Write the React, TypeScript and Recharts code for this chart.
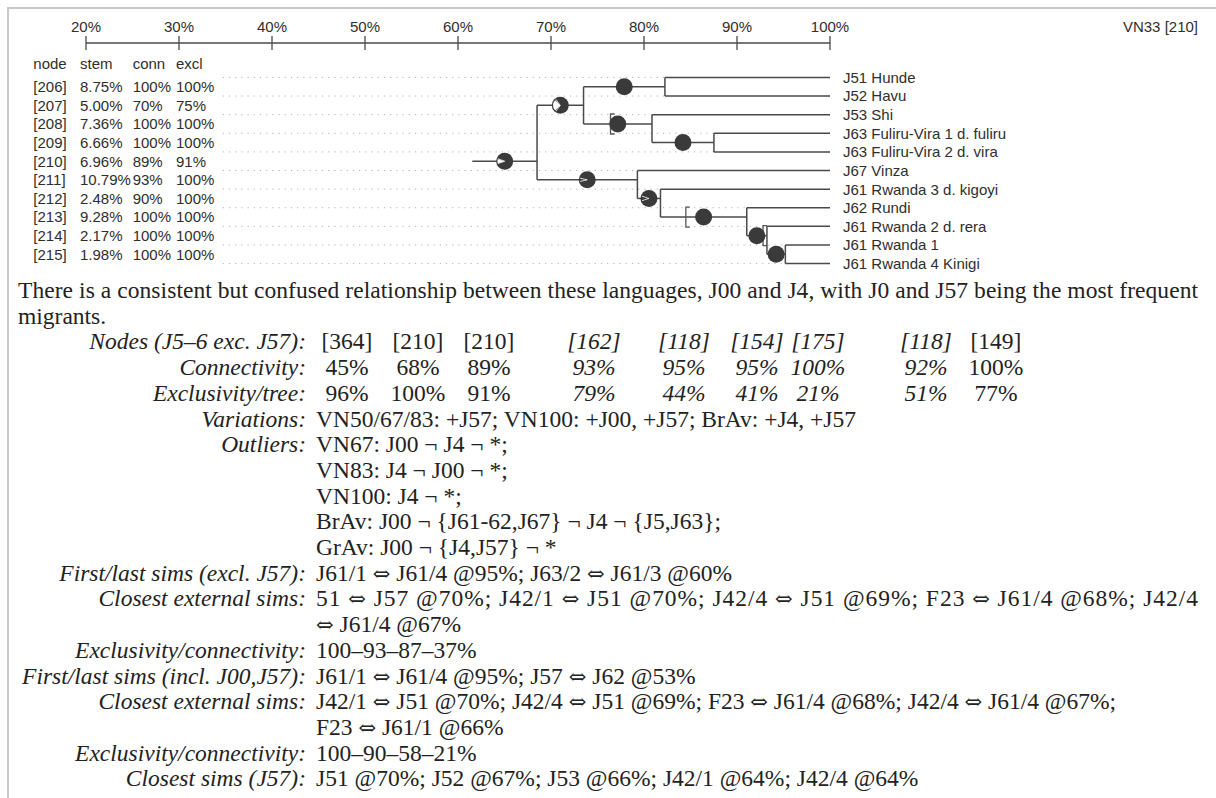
import React from 'react';
import { ScatterChart, Scatter, XAxis, YAxis } from 'recharts';

// leaves of the tree, top to bottom
const leafNames = [
  'J51 Hunde',
  'J52 Havu',
  'J53 Shi',
  'J63 Fuliru-Vira 1 d. fuliru',
  'J63 Fuliru-Vira 2 d. vira',
  'J67 Vinza',
  'J61 Rwanda 3 d. kigoyi',
  'J62 Rundi',
  'J61 Rwanda 2 d. rera',
  'J61 Rwanda 1',
  'J61 Rwanda 4 Kinigi',
];

// internal nodes, in table order
const nodeIds = [206, 207, 208, 209, 210, 211, 212, 213, 214, 215];
const stems = [8.75, 5.0, 7.36, 6.66, 6.96, 10.79, 2.48, 9.28, 2.17, 1.98];
const connectivity = [100, 70, 100, 100, 89, 93, 90, 100, 100, 100];
const exclusivity = [100, 75, 100, 100, 91, 100, 100, 100, 100, 100];
// 'L<n>' = leaf n, 'N<id>' = internal node
const nodeChildren = [
  ['L0', 'L1'],
  ['N206', 'N208'],
  ['L2', 'N209'],
  ['L3', 'L4'],
  ['N207', 'N211'],
  ['L5', 'N212'],
  ['L6', 'N213'],
  ['L7', 'N214'],
  ['L8', 'N215'],
  ['L9', 'L10'],
];
const rootId = 210;
const rootJoin = 68.5;

// range brackets drawn beside some nodes
const bracketIds = [208, 213, 214];
const bracketAt = [76.4, 84.5, 92.8];

const axisTicks = [20, 30, 40, 50, 60, 70, 80, 90, 100];

// text block under the tree
const introLine =
  'There is a consistent but confused relationship between these languages, J00 and J4, with J0 and J57 being the most frequent';
const introTail = 'migrants.';
const summaryLabels = ['Nodes (J5–6 exc. J57):', 'Connectivity:', 'Exclusivity/tree:'];
const summaryNodes = ['[364]', '[210]', '[210]', '[162]', '[118]', '[154]', '[175]', '[118]', '[149]'];
const summaryConn = ['45%', '68%', '89%', '93%', '95%', '95%', '100%', '92%', '100%'];
const summaryExcl = ['96%', '100%', '91%', '79%', '44%', '41%', '21%', '51%', '77%'];
const summaryItalic = [false, false, false, true, true, true, true, true, false];
const noteLabels = [
  'Variations:',
  'Outliers:',
  '',
  '',
  '',
  '',
  'First/last sims (excl. J57):',
  'Closest external sims:',
  '',
  'Exclusivity/connectivity:',
  'First/last sims (incl. J00,J57):',
  'Closest external sims:',
  '',
  'Exclusivity/connectivity:',
  'Closest sims (J57):',
];
const noteValues = [
  'VN50/67/83: +J57; VN100: +J00, +J57; BrAv: +J4, +J57',
  'VN67: J00 ¬ J4 ¬ *;',
  'VN83: J4 ¬ J00 ¬ *;',
  'VN100: J4 ¬ *;',
  'BrAv: J00 ¬ {J61-62,J67} ¬ J4 ¬ {J5,J63};',
  'GrAv: J00 ¬ {J4,J57} ¬ *',
  'J61/1 ⇔ J61/4 @95%; J63/2 ⇔ J61/3 @60%',
  '51 ⇔ J57 @70%; J42/1 ⇔ J51 @70%; J42/4 ⇔ J51 @69%; F23 ⇔ J61/4 @68%; J42/4',
  '⇔ J61/4 @67%',
  '100–93–87–37%',
  'J61/1 ⇔ J61/4 @95%; J57 ⇔ J62 @53%',
  'J42/1 ⇔ J51 @70%; J42/4 ⇔ J51 @69%; F23 ⇔ J61/4 @68%; J42/4 ⇔ J61/4 @67%;',
  'F23 ⇔ J61/1 @66%',
  '100–90–58–21%',
  'J51 @70%; J52 @67%; J53 @66%; J42/1 @64%; J42/4 @64%',
];
const justifiedNotes = [7];

const SANS = '"Liberation Sans", Arial, Helvetica, sans-serif';
const SERIF = '"Liberation Serif", "Times New Roman", serif';
const LINE = '#4a4a4a';
const INK = '#2e2e2e';
const AXIS_Y = 43;
const HEADER_ROW = -0.77;

// --- tree layout -----------------------------------------------------------
const nodeIndex = (id: number) => nodeIds.indexOf(id);
const rowOf = (ref: string) =>
  ref[0] === 'L' ? Number(ref.slice(1)) : nodeIndex(Number(ref.slice(1))) + 0.5;

const joinAt: Record<number, number> = {};
const parentJoin: Record<string, number> = {};
const place = (id: number, h: number) => {
  joinAt[id] = h;
  nodeChildren[nodeIndex(id)].forEach((c) => {
    parentJoin[c] = h;
    if (c[0] === 'N') {
      const cid = Number(c.slice(1));
      place(cid, h + stems[nodeIndex(cid)]);
    }
  });
};
place(rootId, rootJoin);

type Pt = { x: number; y: number };
const segments: Pt[][] = [];
nodeIds.forEach((id, i) => {
  const h = joinAt[id];
  const rows = nodeChildren[i].map(rowOf);
  segments.push([{ x: h, y: Math.min(...rows) }, { x: h, y: Math.max(...rows) }]);
  segments.push([{ x: h - stems[i], y: i + 0.5 }, { x: h, y: i + 0.5 }]);
});
leafNames.forEach((_, j) => {
  segments.push([{ x: parentJoin['L' + j], y: j }, { x: 100, y: j }]);
});

const guides: Pt[][] = leafNames.map((_, j) => [
  { x: 34.7, y: j },
  { x: parentJoin['L' + j], y: j },
]);

const dotData = nodeIds.map((id, i) => ({
  x: joinAt[id] - stems[i] / 2,
  y: i + 0.5,
  conn: connectivity[i],
  excl: exclusivity[i],
}));
const leafData = leafNames.map((name, j) => ({ x: 100, y: j, name }));
const tableData = nodeIds.map((id, i) => ({
  x: 20,
  y: i + 0.5,
  id,
  stem: stems[i].toFixed(2) + '%',
  conn: connectivity[i] + '%',
  excl: exclusivity[i] + '%',
}));
const bracketData = bracketIds.map((id, k) => ({ x: bracketAt[k], y: nodeIndex(id) + 0.5 }));

// --- shapes ----------------------------------------------------------------
const Blank = () => <g />;

const polar = (cx: number, cy: number, r: number, a: number) =>
  `${cx + r * Math.cos(a)},${cy + r * Math.sin(a)}`;

const wedge = (cx: number, cy: number, r: number, frac: number) => {
  const half = frac * Math.PI;
  const large = frac > 0.5 ? 1 : 0;
  return `M${cx},${cy} L${polar(cx, cy, r, Math.PI - half)} A${r},${r} 0 ${large} 1 ${polar(
    cx,
    cy,
    r,
    Math.PI + half
  )} Z`;
};

const rays = (cx: number, cy: number, r: number, frac: number) => {
  const half = frac * Math.PI;
  return `M${polar(cx, cy, r, Math.PI - half)} L${cx},${cy} L${polar(cx, cy, r, Math.PI + half)}`;
};

const NodeDot = (props: any) => {
  const { cx, cy, payload } = props;
  const r = 8.5;
  const cut = (100 - payload.excl) / 100;
  const gap = (100 - payload.conn) / 100;
  return (
    <g>
      <circle cx={cx} cy={cy} r={r} fill="#3a3a3a" />
      {cut > 0 && <path d={wedge(cx, cy, r - 1.2, cut)} fill="#fff" />}
      {gap > 0 && <path d={rays(cx, cy, r - 1.2, gap)} fill="none" stroke="#fff" strokeWidth={0.8} />}
    </g>
  );
};

const Bracket = (props: any) => {
  const { cx, cy } = props;
  return (
    <path
      d={`M${cx + 4},${cy - 10} H${cx} V${cy + 10} H${cx + 4}`}
      fill="none"
      stroke="#555"
      strokeWidth={1.3}
    />
  );
};

const LeafLabel = (props: any) => {
  const { cx, cy, payload } = props;
  return (
    <text x={cx + 13} y={cy} dy="0.36em" fontSize={15} fontFamily={SANS} fill={INK}>
      {payload.name}
    </text>
  );
};

const tableCols = [33.3, 80, 132.7, 176];

const TableRow = (props: any) => {
  const { cy, payload } = props;
  const cells = [`[${payload.id}]`, payload.stem, payload.conn, payload.excl];
  return (
    <g fontSize={15} fontFamily={SANS} fill={INK}>
      {cells.map((c, k) => (
        <text key={k} x={tableCols[k]} y={cy} dy="0.36em">
          {c}
        </text>
      ))}
    </g>
  );
};

const TableHeader = (props: any) => {
  const { cy } = props;
  return (
    <g fontSize={15} fontFamily={SANS} fill={INK}>
      {['node', 'stem', 'conn', 'excl'].map((c, k) => (
        <text key={k} x={tableCols[k]} y={cy} dy="0.36em">
          {c}
        </text>
      ))}
    </g>
  );
};

const AxisTick = (props: any) => {
  const { x, payload } = props;
  return (
    <g>
      <line x1={x} x2={x} y1={AXIS_Y - 7} y2={AXIS_Y + 7} stroke={LINE} strokeWidth={1.3} />
      <text x={x} y={AXIS_Y - 11.5} textAnchor="middle" fontSize={15} fontFamily={SANS} fill={INK}>
        {payload.value}%
      </text>
    </g>
  );
};

// --- text block ------------------------------------------------------------
const baseline = (i: number) => 298 + 25.7 * i;
const LABEL_END = 306;
const VALUE_START = 316;
const colCenters = [347, 418, 489, 594, 684, 757, 818, 926, 996];

// the double arrow is missing from the serif face, so take it from DejaVu
const withArrows = (s: string) =>
  s.split('⇔').flatMap((part, i) =>
    i === 0
      ? [part]
      : [
          <tspan key={i} fontFamily="DejaVu Serif" fontSize={21}>
            ⇔
          </tspan>,
          part,
        ]
  );

const TextBlock = () => (
  <svg
    width={1216}
    height={798}
    style={{ position: 'absolute', left: 0, top: 0 }}
    fontFamily={SERIF}
    fontSize={23.5}
    fill="#222"
  >
    <text x={18} y={baseline(0)} textLength={1180} lengthAdjust="spacing">
      {introLine}
    </text>
    <text x={18} y={baseline(1)}>
      {introTail}
    </text>
    {[summaryNodes, summaryConn, summaryExcl].map((cells, r) => (
      <g key={r}>
        <text x={LABEL_END} y={baseline(2 + r)} textAnchor="end" fontStyle="italic">
          {summaryLabels[r]}
        </text>
        {cells.map((c, k) => (
          <text
            key={k}
            x={colCenters[k]}
            y={baseline(2 + r)}
            textAnchor="middle"
            fontStyle={summaryItalic[k] ? 'italic' : 'normal'}
          >
            {c}
          </text>
        ))}
      </g>
    ))}
    {noteValues.map((v, k) => (
      <g key={k}>
        {noteLabels[k] && (
          <text x={LABEL_END} y={baseline(5 + k)} textAnchor="end" fontStyle="italic">
            {noteLabels[k]}
          </text>
        )}
        {justifiedNotes.includes(k) ? (
          <text x={VALUE_START} y={baseline(5 + k)} textLength={1198 - VALUE_START} lengthAdjust="spacing">
            {withArrows(v)}
          </text>
        ) : (
          <text x={VALUE_START} y={baseline(5 + k)}>
            {withArrows(v)}
          </text>
        )}
      </g>
    ))}
  </svg>
);

export default function App() {
  return (
    <div style={{ position: 'relative', width: 1216, height: 798, overflow: 'hidden', background: '#fff' }}>
      <style>{'html, body { margin: 0; overflow: hidden; }'}</style>
      <div
        style={{
          position: 'absolute',
          left: 7,
          top: 7,
          width: 1209,
          height: 791,
          borderTop: '2px solid #c8c8c8',
          borderLeft: '2px solid #c8c8c8',
        }}
      />
      <TextBlock />
      <div
        style={{
          position: 'absolute',
          right: 18,
          top: 18,
          fontFamily: SANS,
          fontSize: 15,
          color: INK,
        }}
      >
        VN33 [210]
      </div>
      <div style={{ position: 'absolute', left: 0, top: 0 }}>
        <ScatterChart width={1216} height={285} margin={{ top: 10, right: 386, bottom: 0, left: 86 }}>
          <XAxis
            type="number"
            dataKey="x"
            orientation="top"
            domain={[20, 100]}
            ticks={axisTicks}
            interval={0}
            height={33}
            axisLine={{ stroke: LINE, strokeWidth: 1.5 }}
            tickLine={false}
            tick={(p: any) => <AxisTick {...p} />}
          />
          <YAxis type="number" dataKey="y" domain={[-1.85, 11.15]} reversed hide width={0} />
          {guides.map((g, k) => (
            <Scatter
              key={'g' + k}
              data={g}
              line={{ stroke: '#b0b0b0', strokeWidth: 1, strokeDasharray: '1.2 5' }}
              shape={Blank}
              isAnimationActive={false}
            />
          ))}
          {segments.map((s, k) => (
            <Scatter
              key={'s' + k}
              data={s}
              line={{ stroke: LINE, strokeWidth: 1.5 }}
              shape={Blank}
              isAnimationActive={false}
            />
          ))}
          <Scatter data={bracketData} shape={Bracket} isAnimationActive={false} />
          <Scatter data={dotData} shape={NodeDot} isAnimationActive={false} />
          <Scatter data={leafData} shape={LeafLabel} isAnimationActive={false} />
          <Scatter data={tableData} shape={TableRow} isAnimationActive={false} />
          <Scatter data={[{ x: 20, y: HEADER_ROW }]} shape={TableHeader} isAnimationActive={false} />
        </ScatterChart>
      </div>
    </div>
  );
}
